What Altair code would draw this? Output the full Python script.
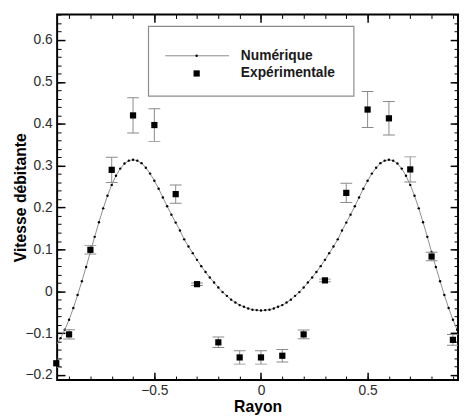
import altair as alt
import pandas as pd

# ---------------- data ----------------
exp_x = [-0.96, -0.9, -0.8, -0.7, -0.6, -0.5, -0.4, -0.3, -0.2, -0.1,
         0.0, 0.1, 0.2, 0.3, 0.4, 0.5, 0.6, 0.7, 0.8, 0.9]
exp_y = [-0.172, -0.103, 0.099, 0.290, 0.420, 0.397, 0.232, 0.017, -0.122, -0.158,
         -0.158, -0.154, -0.103, 0.026, 0.235, 0.434, 0.413, 0.291, 0.083, -0.116]
exp_err = [0.010, 0.011, 0.010, 0.030, 0.042, 0.039, 0.022, 0.003, 0.0125, 0.016,
           0.016, 0.015, 0.0105, 0.003, 0.023, 0.043, 0.040, 0.030, 0.010, 0.013]

# numerical profile, |r| = 0.00, 0.02, ..., 0.96 (symmetric)
num_abs_r = [round(0.02 * i, 2) for i in range(49)]
num_half = [-0.046, -0.045, -0.044, -0.041, -0.037, -0.033, -0.027, -0.020, -0.011, -0.002,
            0.009, 0.021, 0.033, 0.046, 0.060, 0.075, 0.091, 0.107, 0.124, 0.145,
            0.164, 0.183, 0.203, 0.224, 0.245, 0.264, 0.281, 0.295, 0.306, 0.312,
            0.314, 0.312, 0.305, 0.293, 0.276, 0.254, 0.228, 0.198, 0.165, 0.130,
            0.094, 0.058, 0.024, -0.009, -0.040, -0.068, -0.092, -0.112, -0.128]

x_major = [-0.5, 0.0, 0.5]
x_minor = [round(-0.9 + 0.1 * i, 1) for i in range(19)]
y_major = [round(-0.2 + 0.1 * i, 1) for i in range(9)]
y_minor = [round(-0.2 + 0.02 * i, 2) for i in range(44)]

legend_labels = ["Numérique", "Expérimentale"]

# ---------------- frames ----------------
num_x, num_y = [], []
for r, v in zip(num_abs_r[::-1], num_half[::-1]):
    num_x.append(-r); num_y.append(v)
for r, v in zip(num_abs_r[1:], num_half[1:]):
    if r <= 0.92:
        num_x.append(r); num_y.append(v)
num_df = pd.DataFrame({"r": num_x, "v": num_y})

exp_df = pd.DataFrame({"r": exp_x, "v": exp_y, "err": exp_err})
exp_df["lo"] = exp_df["v"] - exp_df["err"]
exp_df["hi"] = exp_df["v"] + exp_df["err"]

xs = alt.Scale(domain=[-0.956, 0.924], nice=False, zero=False)
ys = alt.Scale(domain=[-0.212, 0.661], nice=False, zero=False)

FONT = "Liberation Sans"


def axis(orient, values, size, width, labels=False, title=None, **kw):
    return alt.Axis(orient=orient, values=values, tickSize={"expr": str(-size)},
                    tickWidth=width, tickColor="black", domain=False, grid=False,
                    labels=labels, title=title, **kw)


bottom_main = axis("bottom", x_major, 8, 1.5, labels=True, title="Rayon",
                   labelFont=FONT, labelFontSize=14, labelColor="#2b2b2b",
                   labelPadding=12, format=".1~f", titleFont=FONT, titleFontSize=16,
                   titleFontWeight="bold", titleColor="black", titlePadding=1)
left_main = axis("left", y_major, 8, 1.5, labels=True, title="Vitesse débitante",
                 labelFont=FONT, labelFontSize=14, labelColor="#2b2b2b",
                 labelPadding=13, format=".1~f", titleFont=FONT, titleFontSize=16,
                 titleFontWeight="bold", titleColor="black", titlePadding=-3)

base_num = alt.Chart(num_df)
base_exp = alt.Chart(exp_df)

curve_line = base_num.mark_line(color="#8c8c8c", strokeWidth=1, clip=True).encode(
    x=alt.X("r:Q", scale=xs, axis=bottom_main),
    y=alt.Y("v:Q", scale=ys, axis=left_main),
)
curve_pts = base_num.mark_circle(size=6, color="black", opacity=1, clip=True).encode(
    x=alt.X("r:Q", scale=xs, axis=axis("bottom", x_minor, 4, 1)),
    y=alt.Y("v:Q", scale=ys, axis=axis("left", y_minor, 4, 1)),
)
err_rule = base_exp.mark_rule(color="#8a8a8a", strokeWidth=1, clip=True).encode(
    x=alt.X("r:Q", scale=xs, axis=axis("top", x_major, 8, 1.5)),
    y=alt.Y("lo:Q", scale=ys, axis=axis("right", y_major, 8, 1.5)),
    y2="hi:Q",
)
cap_lo = base_exp.mark_tick(orient="horizontal", size=12, thickness=1,
                            color="#8a8a8a", opacity=1, clip=True).encode(
    x=alt.X("r:Q", scale=xs, axis=None),
    y=alt.Y("lo:Q", scale=ys, axis=None),
)
cap_hi = base_exp.mark_tick(orient="horizontal", size=12, thickness=1,
                            color="#8a8a8a", opacity=1, clip=True).encode(
    x=alt.X("r:Q", scale=xs, axis=None),
    y=alt.Y("hi:Q", scale=ys, axis=None),
)
squares = base_exp.mark_square(size=40, color="black", opacity=1).encode(
    x=alt.X("r:Q", scale=xs, axis=axis("top", x_minor, 4, 1)),
    y=alt.Y("v:Q", scale=ys, axis=axis("right", y_minor, 4, 1)),
)

# ---------------- legend ----------------
one = alt.Chart(pd.DataFrame({"k": [0]}))
leg_box = one.mark_rect(fill="white", stroke="#8c8c8c", strokeWidth=1.2).encode(
    x=alt.value(93), x2=alt.value(302), y=alt.value(12), y2=alt.value(83))
leg_line = one.mark_rule(color="#8c8c8c", strokeWidth=1).encode(
    x=alt.value(110), x2=alt.value(175), y=alt.value(42))
leg_dot = one.mark_circle(size=6, color="black", opacity=1).encode(
    x=alt.value(142), y=alt.value(42))
leg_sq = one.mark_square(size=40, color="black", opacity=1).encode(
    x=alt.value(142), y=alt.value(60))
leg_t1 = one.mark_text(align="left", baseline="middle", font=FONT, fontSize=14,
                       fontWeight="bold", color="#1a1a1a").encode(
    x=alt.value(187), y=alt.value(42), text=alt.value(legend_labels[0]))
leg_t2 = one.mark_text(align="left", baseline="middle", font=FONT, fontSize=14,
                       fontWeight="bold", color="#1a1a1a").encode(
    x=alt.value(187), y=alt.value(60), text=alt.value(legend_labels[1]))

chart = alt.layer(
    curve_line, curve_pts, err_rule, cap_lo, cap_hi, squares,
    leg_box, leg_line, leg_dot, leg_sq, leg_t1, leg_t2,
).resolve_axis(x="independent", y="independent").properties(
    width=408, height=372,
    autosize=alt.AutoSizeParams(type="none"),
    padding={"left": 50, "top": 3, "right": 1, "bottom": 34},
    background="white",
).configure_view(stroke="black", strokeWidth=2)

chart.save("out.html", embed_options={"renderer": "svg", "actions": False})
